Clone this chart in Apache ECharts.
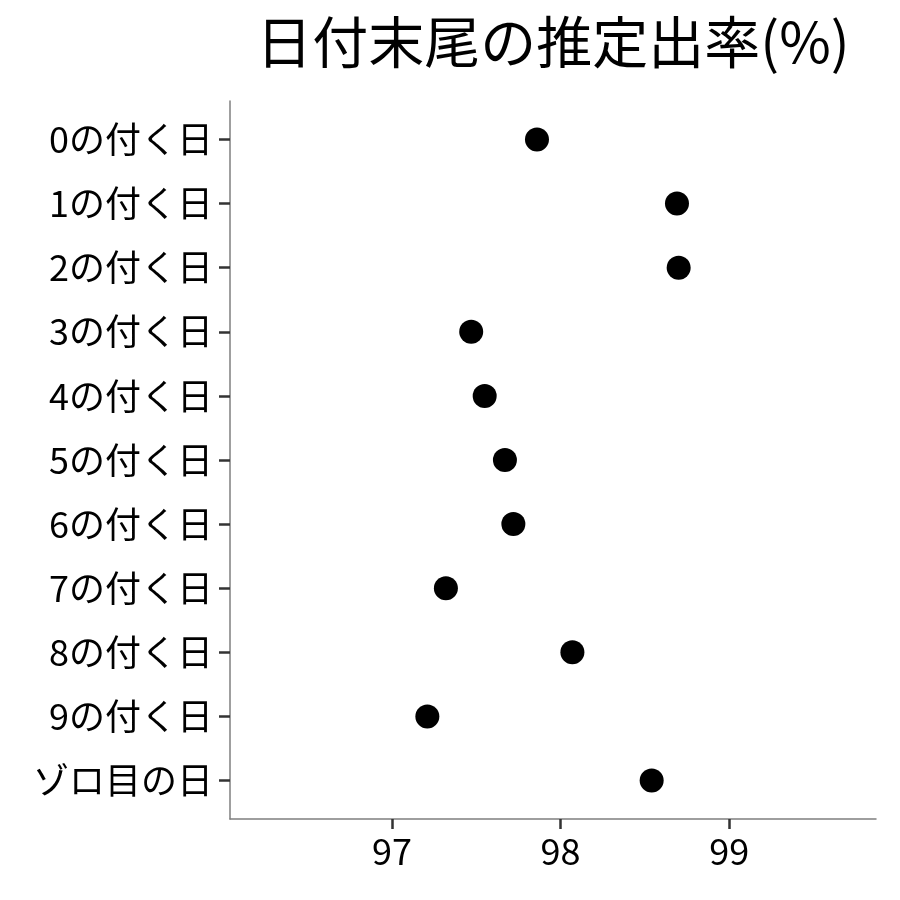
<!DOCTYPE html>
<html>
<head>
<meta charset="utf-8">
<script src="https://cdn.jsdelivr.net/npm/echarts@6/dist/echarts.min.js"></script>
<style>
html,body{margin:0;padding:0;background:#fff;}
#chart{width:900px;height:900px;}
</style>
</head>
<body>
<div id="chart"></div>
<script>
const titleText = "日付末尾の推定出率(%)";
const categories = ["0の付く日","1の付く日","2の付く日","3の付く日","4の付く日","5の付く日","6の付く日","7の付く日","8の付く日","9の付く日","ゾロ目の日"];
const rates = [97.86, 98.69, 98.70, 97.47, 97.55, 97.67, 97.72, 97.32, 98.07, 97.21, 98.54];
const xTicks = [97, 98, 99];

const font = '"Noto Sans CJK JP", "Noto Sans", sans-serif';
const catIdx = categories.map((c, i) => i);
const points = rates.map((v, i) => [v, i]);

const chart = echarts.init(document.getElementById('chart'), null, {renderer: 'canvas'});
chart.setOption({
  backgroundColor: '#ffffff',
  animation: false,
  title: {
    text: titleText,
    left: 548,
    top: 9,
    textAlign: 'center',
    textStyle: {fontFamily: font, fontSize: 56, fontWeight: 'normal', color: '#000'}
  },
  grid: {left: 230, right: 24, top: 101, bottom: 81, containLabel: false},
  xAxis: {
    type: 'value',
    min: 96.04,
    max: 99.87,
    splitLine: {show: false},
    axisLine: {show: true, onZero: false, lineStyle: {color: '#7f7f7f', width: 1.5}},
    axisTick: {show: true, customValues: xTicks, length: 10, lineStyle: {color: '#333', width: 2.5}},
    axisLabel: {customValues: xTicks, margin: 14, fontFamily: font, fontSize: 36, color: '#000'}
  },
  yAxis: {
    type: 'value',
    inverse: true,
    min: -0.6,
    max: 10.6,
    splitLine: {show: false},
    axisLine: {show: true, onZero: false, lineStyle: {color: '#7f7f7f', width: 1.5}},
    axisTick: {show: true, customValues: catIdx, length: 11, lineStyle: {color: '#333', width: 2.5}},
    axisLabel: {
      customValues: catIdx,
      margin: 17,
      fontFamily: font, fontSize: 36, color: '#000',
      formatter: v => categories[Math.round(v)] ?? ''
    }
  },
  series: [{
    type: 'scatter',
    data: points,
    symbol: 'circle',
    symbolSize: 24,
    itemStyle: {color: '#000', opacity: 1}
  }]
});
</script>
</body>
</html>
